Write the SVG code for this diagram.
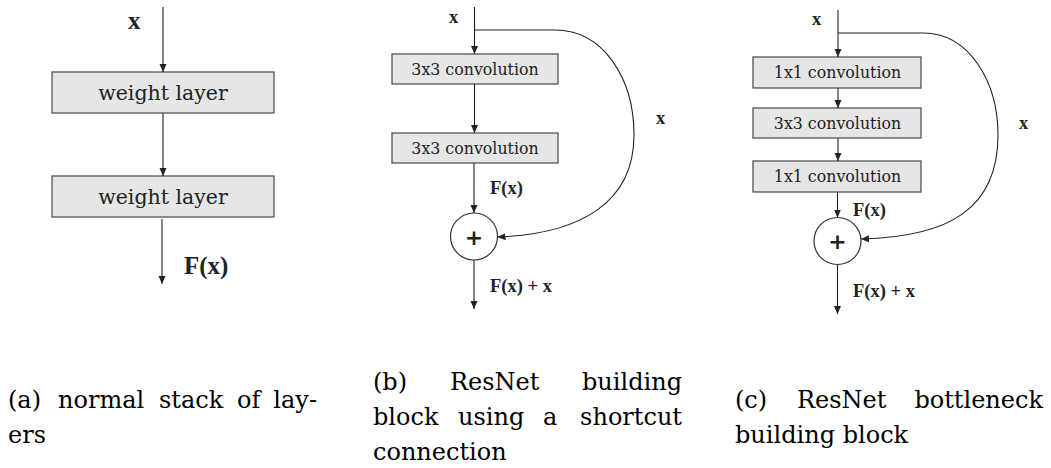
<svg xmlns="http://www.w3.org/2000/svg" width="1051" height="468" viewBox="0 0 1051 468">
<style>
.bg{fill:#ffffff}
.box{fill:#e6e6e6;stroke:#555555;stroke-width:1.3}
.circ{fill:#ffffff;stroke:#333333;stroke-width:1.2}
.ln{fill:none;stroke:#222222;stroke-width:1.1}
.wl{font-family:"DejaVu Serif","Liberation Serif",serif;font-size:20.5px;fill:#222222;text-anchor:middle}
.cv{font-family:"DejaVu Serif","Liberation Serif",serif;font-size:15.8px;fill:#222222;text-anchor:middle}
.lbA{font-family:"Liberation Serif","DejaVu Serif",serif;font-size:25px;font-weight:bold;fill:#222222}
.lb{font-family:"Liberation Serif","DejaVu Serif",serif;font-size:18.5px;font-weight:bold;fill:#222222}
.plus{font-family:"DejaVu Sans","Liberation Sans",sans-serif;font-size:22px;font-weight:bold;fill:#222222;text-anchor:middle}
.cap{font-family:"DejaVu Serif","Liberation Serif",serif;font-size:24px;fill:#000000}
.end{text-anchor:end}
</style>
<defs>
<marker id="arr" markerUnits="userSpaceOnUse" markerWidth="8" markerHeight="8" refX="8" refY="3.5" orient="auto">
<path d="M0,0 L8,3.5 L0,7 z" fill="#222222"/>
</marker>
</defs>
<rect class="bg" x="0" y="0" width="1051" height="468"/>

<!-- Panel (a) -->
<g id="a_wl1"><rect class="box" x="52" y="72" width="222" height="41"/><text class="wl" x="163" y="99.5">weight layer</text></g>
<g id="a_wl2"><rect class="box" x="52" y="176" width="222" height="41"/><text class="wl" x="163" y="203.5">weight layer</text></g>

<!-- Panel (b) -->
<g id="b_conv1"><rect class="box" x="392" y="54" width="166" height="30"/><text class="cv" x="475" y="75">3x3 convolution</text></g>
<g id="b_conv2"><rect class="box" x="392" y="133" width="166" height="30"/><text class="cv" x="475" y="154">3x3 convolution</text></g>
<g id="b_add"><circle class="circ" cx="474" cy="236.5" r="23.5"/><text class="plus" x="474" y="244.5">+</text></g>

<!-- Panel (c) -->
<g id="c_conv1"><rect class="box" x="753" y="57" width="168" height="31"/><text class="cv" x="837.5" y="78">1x1 convolution</text></g>
<g id="c_conv2"><rect class="box" x="753" y="108" width="168" height="30"/><text class="cv" x="837.5" y="129">3x3 convolution</text></g>
<g id="c_conv3"><rect class="box" x="753" y="161" width="168" height="31"/><text class="cv" x="837.5" y="182">1x1 convolution</text></g>
<g id="c_add"><circle class="circ" cx="837.5" cy="241" r="23.5"/><text class="plus" x="837.5" y="249">+</text></g>

<g id="connectors">
<!-- (a) -->
<line class="ln" x1="163" y1="7" x2="163" y2="72" marker-end="url(#arr)"/>
<line class="ln" x1="163" y1="113" x2="163" y2="176" marker-end="url(#arr)"/>
<line class="ln" x1="162" y1="219" x2="162" y2="284" marker-end="url(#arr)"/>
<!-- (b) -->
<line class="ln" x1="474.5" y1="7" x2="474.5" y2="54" marker-end="url(#arr)"/>
<line class="ln" x1="474.5" y1="84" x2="474.5" y2="133" marker-end="url(#arr)"/>
<line class="ln" x1="474" y1="163" x2="474" y2="213" marker-end="url(#arr)"/>
<line class="ln" x1="474" y1="260" x2="474" y2="309" marker-end="url(#arr)"/>
<path class="ln" d="M474.5,30 H555 C603,30 634,78 634,135 C634,203 580,234 497.5,237" marker-end="url(#arr)"/>
<!-- (c) -->
<line class="ln" x1="838" y1="10" x2="838" y2="57" marker-end="url(#arr)"/>
<line class="ln" x1="838" y1="88" x2="838" y2="108" marker-end="url(#arr)"/>
<line class="ln" x1="838" y1="138" x2="838" y2="161" marker-end="url(#arr)"/>
<line class="ln" x1="837.5" y1="192" x2="837.5" y2="217.5" marker-end="url(#arr)"/>
<line class="ln" x1="837.5" y1="264.5" x2="837.5" y2="314" marker-end="url(#arr)"/>
<path class="ln" d="M838,33 H923 C970,33 998,83 998,135 C998,208 950,237 861,239" marker-end="url(#arr)"/>
</g>

<g id="labels">
<text class="lbA" x="128" y="29">x</text>
<text class="lbA" x="184" y="274">F(x)</text>
<text class="lb" x="449" y="23">x</text>
<text class="lb" x="656" y="124">x</text>
<text class="lb" x="490" y="194">F(x)</text>
<text class="lb" x="490" y="292">F(x) + x</text>
<text class="lb" x="812" y="25">x</text>
<text class="lb" x="1019" y="129">x</text>
<text class="lb" x="853" y="216">F(x)</text>
<text class="lb" x="853" y="297">F(x) + x</text>
</g>

<g id="captions">
<text class="cap" x="8" y="408">(a)</text>
<text class="cap" x="58" y="408">normal</text>
<text class="cap" x="159" y="408">stack</text>
<text class="cap" x="237" y="408">of</text>
<text class="cap end" x="317" y="408">lay-</text>
<text class="cap" x="8" y="443">ers</text>

<text class="cap" x="373" y="390">(b)</text>
<text class="cap" x="450" y="390">ResNet</text>
<text class="cap end" x="682" y="390">building</text>
<text class="cap" x="373" y="425">block</text>
<text class="cap" x="458" y="425">using</text>
<text class="cap" x="543" y="425">a</text>
<text class="cap end" x="682" y="425">shortcut</text>
<text class="cap" x="373" y="460">connection</text>

<text class="cap" x="735" y="408">(c)</text>
<text class="cap" x="797" y="408">ResNet</text>
<text class="cap end" x="1043" y="408">bottleneck</text>
<text class="cap" x="735" y="443">building block</text>
</g>
</svg>
